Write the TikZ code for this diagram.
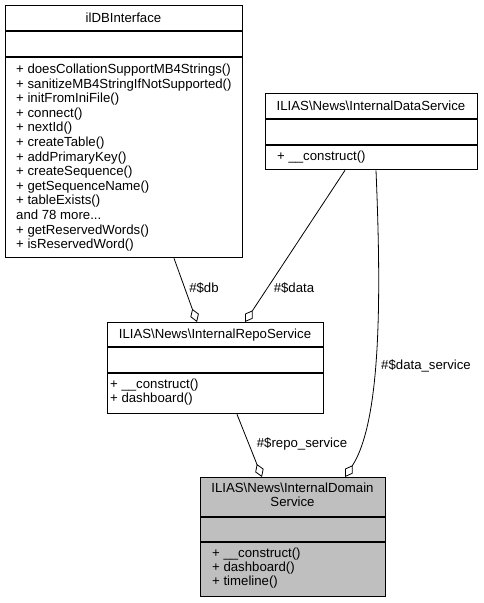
\documentclass[tikz,border=0pt]{standalone}
\usepackage{fontspec}
\setmainfont{Liberation Sans}
\usetikzlibrary{arrows.meta}
\definecolor{domgray}{HTML}{BFBFBF}
\newcommand{\dfont}{\fontsize{13.2}{14}\selectfont}
\tikzset{
  box/.style={draw=black, line width=1.3pt, inner sep=0pt, anchor=north west},
  ttl/.style={inner sep=0pt, font=\dfont, align=center},
  mtext/.style={inner sep=0pt, anchor=west, font=\dfont, text height=9.5pt, text depth=2.5pt},
  lbl/.style={inner sep=0pt, font=\dfont},
  agg/.style={line width=0.8pt, -{Diamond[open, fill=white, length=14pt, width=9pt, line width=0.8pt]}},
  divider/.style={line width=1.3pt}
}
\newcommand{\moredots}{and 78 more...}
\begin{document}
\begin{tikzpicture}[x=1pt, y=-1pt]
\useasboundingbox (0,0) rectangle (483,603);
% ilDBInterface
\node[box, minimum width=237pt, minimum height=252pt] (dbi) at (5,5) {};
\draw[divider] (5,31) -- (242,31);
\draw[divider] (5,57) -- (242,57);
\node[ttl] (dbit) at (123.5,18) {ilDBInterface};
\foreach [count=\i] \t in {{+ doesCollationSupportMB4Strings()}, {+ sanitizeMB4StringIfNotSupported()}, {+ initFromIniFile()}, {+ connect()}, {+ nextId()}, {+ createTable()}, {+ addPrimaryKey()}, {+ createSequence()}, {+ getSequenceName()}, {+ tableExists()}, \moredots, {+ getReservedWords()}, {+ isReservedWord()}}
  \node[mtext] (dbm\i) at (16,{70+14.6*(\i-1)}) {\t};
% InternalDataService
\node[box, minimum width=212pt, minimum height=76pt] (data) at (265,93) {};
\draw[divider] (265,119) -- (477,119);
\draw[divider] (265,145) -- (477,145);
\node[ttl] (datat) at (371,106) {ILIAS\textbackslash News\textbackslash InternalDataService};
\node[mtext] (datam1) at (277,157) {+ \_\_construct()};
% InternalRepoService
\node[box, minimum width=216pt, minimum height=91pt] (repo) at (107,322) {};
\draw[divider] (107,347) -- (323,347);
\draw[divider] (107,373) -- (323,373);
\node[ttl] (repot) at (215,335) {ILIAS\textbackslash News\textbackslash InternalRepoService};
\node[mtext] (repom1) at (110,385) {+ \_\_construct()};
\node[mtext] (repom2) at (110,399) {+ dashboard()};
% InternalDomainService
\node[box, fill=domgray, minimum width=185pt, minimum height=119pt] (dom) at (200,477) {};
\draw[divider] (200,517) -- (385,517);
\draw[divider] (200,542) -- (385,542);
\node[ttl] (domt) at (292.5,495) {ILIAS\textbackslash News\textbackslash InternalDomain\\Service};
\node[mtext] (domm1) at (212,554) {+ \_\_construct()};
\node[mtext] (domm2) at (212,568) {+ dashboard()};
\node[mtext] (domm3) at (212,582) {+ timeline()};
% connectors
\draw[agg] (dbi.south -| 174,0) -- (repo.north -| 197,0);
\node[lbl] (ldb) at (204,288) {\#\$db};
\draw[agg] (data.south -| 345,0) -- (repo.north -| 245,0);
\node[lbl] (ldata) at (294,288) {\#\$data};
\draw[agg] (repo.south -| 237,0) -- (dom.north -| 262,0);
\node[lbl] (lrepo) at (302,444) {\#\$repo\_service};
\draw[agg] (data.south -| 376,0) .. controls (381,290) and (382,420) .. (dom.north -| 345,0);
\node[lbl] (ldsvc) at (426,366) {\#\$data\_service};
\end{tikzpicture}
\end{document}
